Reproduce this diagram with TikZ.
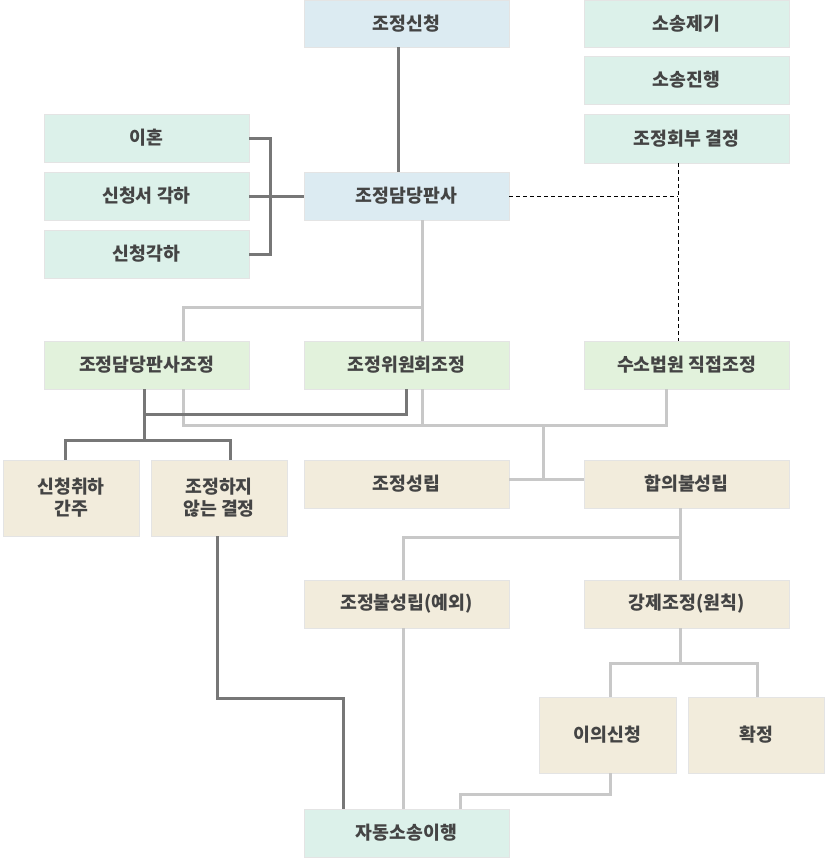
\documentclass[tikz,border=0pt]{standalone}
\usepackage{fontspec}
\setmainfont{Noto Sans CJK KR}
\usetikzlibrary{calc}
\definecolor{cblue}{HTML}{DCEBF2}
\definecolor{cmint}{HTML}{DCF1EA}
\definecolor{cgreen}{HTML}{E2F2DC}
\definecolor{cbeige}{HTML}{F2ECDC}
\definecolor{ctext}{HTML}{444444}
\definecolor{cdark}{HTML}{777777}
\definecolor{clight}{HTML}{C8C8C8}
\definecolor{cedge}{HTML}{E4E4E4}
\newcommand\mybox[7]{\node[box,fill=#6,minimum width={(#4-#2)*1pt},minimum height={(#5-#3)*1pt}] (#1) at ({(#2+#4)/2},{(#3+#5)/2}) {#7};}
\begin{document}
\begin{tikzpicture}[x=1pt,y=-1pt,
  box/.style={draw=cedge,line width=0.6pt,inner sep=0pt,align=center,text=ctext,
    font=\fontsize{18.3}{22}\selectfont\bfseries},
  darkline/.style={draw=cdark,line width=3pt},
  lightline/.style={draw=clight,line width=3pt},
  dashline/.style={draw=black,line width=0.9pt,dash pattern=on 4pt off 3pt}]
\useasboundingbox (0,0) rectangle (825,862);
% boxes
\mybox{req}{304}{0}{509}{47}{cblue}{조정신청}
\mybox{suit}{584}{0}{789}{47}{cmint}{소송제기}
\mybox{prog}{584}{56}{789}{104}{cmint}{소송진행}
\mybox{refer}{584}{114}{789}{163}{cmint}{조정회부 결정}
\mybox{div}{44}{114}{249}{162}{cmint}{이혼}
\mybox{rej1}{44}{172}{249}{220}{cmint}{신청서 각하}
\mybox{rej2}{44}{230}{249}{278}{cmint}{신청각하}
\mybox{judge}{304}{172}{509}{220}{cblue}{조정담당판사}
\mybox{jmed}{44}{341}{249}{389}{cgreen}{조정담당판사조정}
\mybox{cmed}{304}{341}{509}{389}{cgreen}{조정위원회조정}
\mybox{cdir}{584}{341}{789}{389}{cgreen}{수소법원 직접조정}
\mybox{wd}{3}{460}{139}{536}{cbeige}{신청취하\\간주}
\mybox{nomed}{151}{460}{287}{536}{cbeige}{조정하지\\않는 결정}
\mybox{ok}{304}{460}{509}{508}{cbeige}{조정성립}
\mybox{fail}{584}{460}{789}{508}{cbeige}{합의불성립}
\mybox{exc}{304}{580}{509}{628}{cbeige}{조정불성립(예외)}
\mybox{force}{584}{580}{789}{628}{cbeige}{강제조정(원칙)}
\mybox{obj}{539}{697}{676}{773}{cbeige}{이의신청}
\mybox{fin}{688}{697}{824}{773}{cbeige}{확정}
\mybox{auto}{304}{809}{509}{857}{cmint}{자동소송이행}
% light connectors
\draw[lightline] (judge.south -| 422,0) -- (cmed.north -| 422,0);
\draw[lightline] (422,307) -- (183,307) -- (jmed.north -| 183,0);
\draw[lightline] (jmed.south -| 183,0) -- (183,425) -- (666,425) -- (cdir.south -| 666,0);
\draw[lightline] (cmed.south -| 422,0) -- (422,425);
\draw[lightline] (543,425) -- (543,479);
\draw[lightline] (ok.east |- 0,479) -- (fail.west |- 0,479);
\draw[lightline] (fail.south -| 680,0) -- (force.north -| 680,0);
\draw[lightline] (680,537) -- (403,537) -- (exc.north -| 403,0);
\draw[lightline] (force.south -| 680,0) -- (680,663);
\draw[lightline] (obj.north -| 610,0) -- (610,663) -- (757,663) -- (fin.north -| 757,0);
\draw[lightline] (exc.south -| 403,0) -- (auto.north -| 403,0);
\draw[lightline] (obj.south -| 610,0) -- (610,794) -- (460,794) -- (auto.north -| 460,0);
% dark connectors
\draw[darkline] (req.south -| 398,0) -- (judge.north -| 398,0);
\draw[darkline] (div.east) -- (270,138) -- (270,254) -- (rej2.east);
\draw[darkline] (rej1.east) -- (judge.west);
\draw[darkline] (jmed.south -| 144,0) -- (144,440);
\draw[darkline] (144,414) -- (406,414) -- (cmed.south -| 406,0);
\draw[darkline] (wd.north -| 65,0) -- (65,440) -- (230,440) -- (nomed.north -| 230,0);
\draw[darkline] (nomed.south -| 217,0) -- (217,698) -- (343,698) -- (auto.north -| 343,0);
% dashed connectors
\coordinate (dj) at (678,196);
\draw[dashline] (judge.east) -- (dj);
\draw[dashline] (refer.south -| dj) -- (cdir.north -| dj);
\end{tikzpicture}
\end{document}
